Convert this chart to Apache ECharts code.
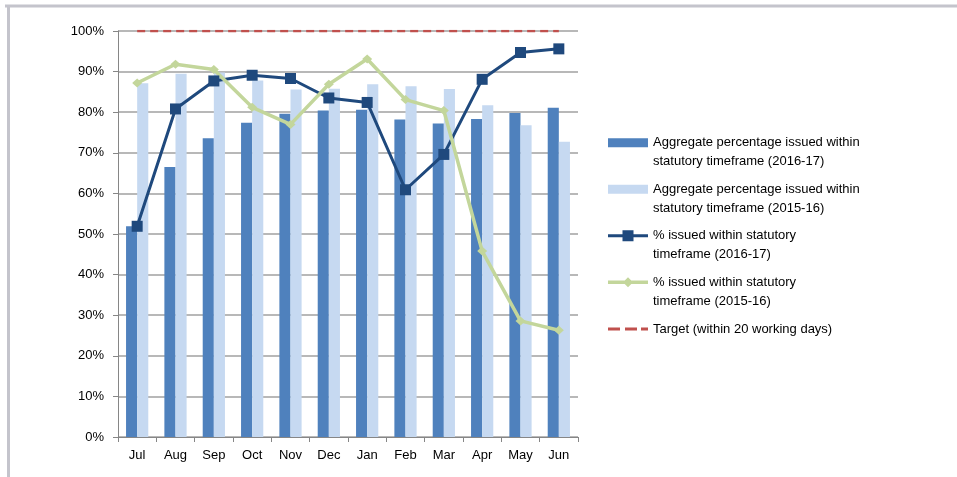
<!DOCTYPE html>
<html lang="en">
<head>
<meta charset="UTF-8">
<title>Statutory timeframe</title>
<style>
    html, body { margin: 0; padding: 0; background: #fff; }
    #chart { width: 957px; height: 477px; }
</style>
</head>
<body>
<div id="chart"></div>
<script src="https://cdn.jsdelivr.net/npm/echarts@6/dist/echarts.min.js"></script>
<script>
    const months = ["Jul", "Aug", "Sep", "Oct", "Nov", "Dec", "Jan", "Feb", "Mar", "Apr", "May", "Jun"];
    const aggregate1617 = [51.9, 66.5, 73.6, 77.4, 79.6, 80.4, 80.6, 78.2, 77.2, 78.3, 79.8, 81.1];
    const aggregate1516 = [87.1, 89.5, 89.8, 87.8, 85.6, 85.8, 86.9, 86.4, 85.7, 81.7, 76.8, 72.7];
    const issued1617 = [51.9, 80.8, 87.7, 89.1, 88.3, 83.5, 82.4, 60.9, 69.6, 88.1, 94.7, 95.6];
    const issued1516 = [87.2, 91.8, 90.5, 81.2, 77.0, 86.9, 93.1, 83.1, 80.4, 45.8, 28.6, 26.3];
    const target = [100, 100, 100, 100, 100, 100, 100, 100, 100, 100, 100, 100];

    const names = [
        "Aggregate percentage issued within statutory timeframe (2016-17)",
        "Aggregate percentage issued within statutory timeframe (2015-16)",
        "% issued within statutory timeframe (2016-17)",
        "% issued within statutory timeframe (2015-16)",
        "Target (within 20 working days)"
    ];
    const legendText = [
        "Aggregate percentage issued within\nstatutory timeframe (2016-17)",
        "Aggregate percentage issued within\nstatutory timeframe (2015-16)",
        "% issued within statutory\ntimeframe (2016-17)",
        "% issued within statutory\ntimeframe (2015-16)",
        "Target (within 20 working days)"
    ];

    const font = "Liberation Sans";
    const lh = 19;
    // first text line centre of each legend entry
    const lineCenters = [142.7, 189.3, 235.7, 282.3, 329];

    // icons are drawn in the upper half of a 40 x 38 box so they sit beside the first text line
    const corners2 = "M0,0L0.01,0L0,0.01Z M40,38L39.99,38L40,37.99Z";
    const corners1 = "M0,0L0.01,0L0,0.01Z M40,19L39.99,19L40,18.99Z";
    const icons = [
        "path://" + corners2 + " M0,5H40V14H0Z",
        "path://" + corners2 + " M0,5H40V14H0Z",
        "path://" + corners2 + " M0,8H40V11H0Z M14.5,4H25.5V15H14.5Z",
        "path://" + corners2 + " M0,7.8H40V11.2H0Z M20,4.5L25,9.5L20,14.5L15,9.5Z",
        "path://" + corners1 + " M0,8H12V11H0Z M17,8H29V11H17Z M33,8H40V11H33Z"
    ];

    const legends = names.map((n, i) => ({
        data: [{ name: n, icon: icons[i] }],
        left: 608,
        top: lineCenters[i] - lh / 2,
        padding: 0,
        itemWidth: 40,
        itemHeight: i < 4 ? lh * 2 : lh,
        itemStyle: { borderWidth: 0 },
        formatter: () => legendText[i],
        textStyle: { fontFamily: font, fontSize: 13, color: "#000", lineHeight: lh }
    }));

    const chart = echarts.init(document.getElementById("chart"));
    chart.setOption({
        animation: false,
        backgroundColor: "#fff",
        textStyle: { fontFamily: font },
        graphic: [
            { type: "line", shape: { x1: 5, y1: 6, x2: 957, y2: 6 }, style: { stroke: "#c4c4cc", lineWidth: 3 } },
            { type: "line", shape: { x1: 8.5, y1: 5, x2: 8.5, y2: 477 }, style: { stroke: "#c4c4cc", lineWidth: 3 } }
        ],
        legend: legends,
        grid: { left: 118, top: 31, right: 379, bottom: 40 },
        xAxis: {
            type: "category",
            data: months,
            axisLine: { lineStyle: { color: "#868686" } },
            axisTick: { show: true, length: 5, lineStyle: { color: "#868686" } },
            axisLabel: { color: "#000", fontSize: 13, fontFamily: font, margin: 12 }
        },
        yAxis: {
            type: "value",
            min: 0,
            max: 100,
            interval: 10,
            axisLine: { show: true, lineStyle: { color: "#868686" } },
            axisTick: { show: true, length: 5, lineStyle: { color: "#868686" } },
            axisLabel: { formatter: "{value}%", color: "#000", fontSize: 13, fontFamily: font, margin: 14 },
            splitLine: { lineStyle: { color: "#a0a0a0", width: 1.5 } }
        },
        series: [
            {
                name: names[0], type: "bar", data: aggregate1617,
                barGap: "0%", barCategoryGap: "42%",
                itemStyle: { color: "#4f81bd" }
            },
            {
                name: names[1], type: "bar", data: aggregate1516,
                itemStyle: { color: "#c6d9f1" }
            },
            {
                name: names[2], type: "line", data: issued1617,
                symbol: "rect", symbolSize: 11,
                lineStyle: { color: "#1f497d", width: 3 },
                itemStyle: { color: "#1f497d" }
            },
            {
                name: names[3], type: "line", data: issued1516,
                symbol: "diamond", symbolSize: [10, 9],
                lineStyle: { color: "#c3d69b", width: 3.5 },
                itemStyle: { color: "#c3d69b" }
            },
            {
                name: names[4], type: "line", data: target,
                symbol: "none",
                lineStyle: { color: "#c0504d", width: 2.5, type: [8, 5] },
                itemStyle: { color: "#c0504d" }
            }
        ]
    });
</script>
</body>
</html>
